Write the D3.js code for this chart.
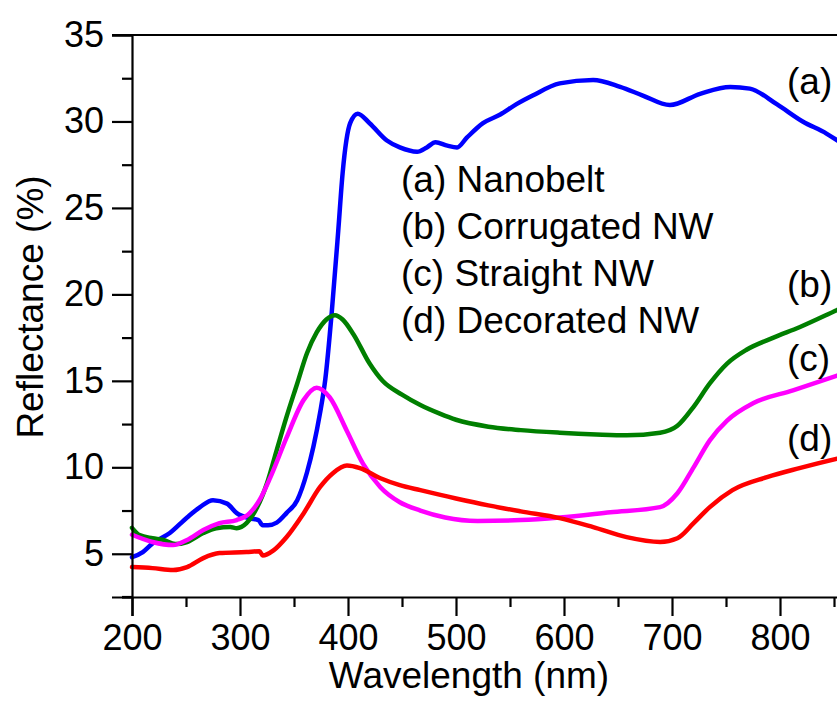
<!DOCTYPE html>
<html>
<head>
<meta charset="utf-8">
<script src="https://cdn.jsdelivr.net/npm/d3@7"></script>
<style>
  html, body { margin: 0; padding: 0; background: #fff; }
  svg { display: block; }
  text { font-family: "Liberation Sans", Arial, sans-serif; fill: #000; }
</style>
</head>
<body>
<svg id="chart" width="837" height="702"></svg>
<script>
// ---- Data ----
const seriesNames = ["(a) Nanobelt", "(b) Corrugated NW", "(c) Straight NW", "(d) Decorated NW"];
const endLabels = ["(a)", "(b)", "(c)", "(d)"];
const seriesColors = ["#0000ff", "#007f00", "#ff00ff", "#ff0000"];

const nanobelt = [
  [200,4.8],[210,5.1],[219,5.6],[235,6.2],[251,7.1],[263,7.7],[275,8.1],[288,7.9],[297,7.35],
  [309,7.05],[317,6.95],[321,6.65],[326,6.65],[334,6.8],[343,7.35],[353,8.1],[362,9.7],[368,11.2],
  [374,13.1],[379,15.1],[385,19.0],[391,23.7],[395,27.0],[402,29.9],[409,30.45],[420,29.9],
  [436,28.9],[448,28.5],[464,28.25],[473,28.5],[481,28.8],[492,28.6],[501,28.5],[510,29.06],
  [525,29.9],[541,30.4],[556,31.0],[571,31.5],[596,32.2],[627,32.4],[652,32.0],[673,31.5],
  [698,30.95],[726,31.6],[754,32.0],[772,31.9],[797,31.0],[821,30.0],[843,29.3],[853,28.9],[860,28.6]
];
const corrugated = [
  [200,6.5],[207,6.08],[219,5.9],[229,5.8],[240,5.56],[251,5.68],[266,6.2],[278,6.48],[291,6.55],
  [297,6.48],[306,6.77],[316,7.7],[325,9.08],[334,11.0],[343,12.9],[353,14.85],[362,16.6],
  [371,17.8],[380,18.55],[388,18.8],[395,18.55],[405,17.7],[420,16.0],[432,15.0],[450,14.2],
  [467,13.6],[485,13.1],[500,12.75],[530,12.35],[560,12.15],[596,12.0],[630,11.9],[658,11.85],
  [689,12.0],[705,12.4],[720,13.5],[735,14.85],[751,16.0],[769,16.8],[794,17.5],[818,18.1],
  [853,19.1],[860,19.3]
];
const straight = [
  [200,6.1],[219,5.68],[238,5.5],[251,5.8],[266,6.37],[281,6.77],[297,6.95],[309,7.35],[318,8.1],
  [328,9.4],[343,11.7],[359,13.9],[371,14.6],[383,14.05],[399,12.1],[414,10.2],[430,8.85],
  [448,7.98],[467,7.5],[490,7.1],[520,6.9],[560,6.95],[596,7.1],[643,7.4],[689,7.7],[705,8.5],
  [720,10.0],[735,11.56],[751,12.7],[775,13.7],[812,14.45],[853,15.3],[860,15.45]
];
const decorated = [
  [200,4.23],[219,4.17],[238,4.06],[251,4.23],[266,4.75],[281,5.04],[306,5.1],[318,5.15],
  [321,4.9],[331,5.2],[343,5.96],[359,7.35],[374,8.85],[386,9.66],[399,10.1],[411,9.95],
  [430,9.37],[448,8.97],[467,8.68],[500,8.2],[530,7.8],[560,7.45],[596,7.06],[627,6.54],
  [658,5.96],[689,5.68],[705,5.9],[720,6.77],[735,7.7],[756,8.68],[788,9.43],[818,9.95],
  [853,10.5],[860,10.6]
];
const seriesData = [nanobelt, corrugated, straight, decorated];

const xMajorTicks = [200, 300, 400, 500, 600, 700, 800];
const xMinorTicks = [250, 350, 450, 550, 650, 750, 850];
const yMajorTicks = [5, 10, 15, 20, 25, 30, 35];
const yMinorTicks = [2.5, 7.5, 12.5, 17.5, 22.5, 27.5, 32.5];

// ---- Layout ----
const svg = d3.select("#chart");
const mLeft = 132, mRight = 888, mTop = 35, mBottom = 597;
const x = d3.scaleLinear().domain([200, 900]).range([mLeft, mRight]);
const y = d3.scaleLinear().domain([2.5, 35]).range([mBottom, mTop]);

// Curves
const line = d3.line().x(d => x(d[0])).y(d => y(d[1])).curve(d3.curveMonotoneX);
seriesData.forEach((s, i) => {
  svg.append("path").datum(s)
    .attr("d", line)
    .attr("fill", "none")
    .attr("stroke", seriesColors[i])
    .attr("stroke-width", 4.5)
    .attr("stroke-linejoin", "round")
    .attr("stroke-linecap", "round");
});

// Axes
const fsTick = 36, fsText = 37;
const xAxis = d3.axisBottom(x).tickValues(xMajorTicks).tickSize(19).tickPadding(8).tickFormat(d3.format("d"));
const gx = svg.append("g").attr("transform", `translate(0,${mBottom})`).call(xAxis);
gx.selectAll("text").attr("font-size", fsTick).attr("font-family", "Liberation Sans, Arial, sans-serif");
const xMinor = d3.axisBottom(x).tickValues(xMinorTicks).tickSize(10).tickFormat("");
const gxm = svg.append("g").attr("transform", `translate(0,${mBottom})`).call(xMinor);
gxm.select(".domain").remove();

const yAxis = d3.axisLeft(y).tickValues(yMajorTicks).tickSize(20).tickPadding(8);
const gy = svg.append("g").attr("transform", `translate(${mLeft},0)`).call(yAxis);
gy.selectAll("text").attr("font-size", fsTick).attr("font-family", "Liberation Sans, Arial, sans-serif");
const yMinor = d3.axisLeft(y).tickValues(yMinorTicks).tickSize(10).tickFormat("");
const gym = svg.append("g").attr("transform", `translate(${mLeft},0)`).call(yMinor);
gym.select(".domain").remove();

svg.selectAll(".domain").attr("stroke", "#000").attr("stroke-width", 2.2);
svg.selectAll(".tick line").attr("stroke", "#000").attr("stroke-width", 2.2);

// top frame line
svg.append("line")
  .attr("x1", x(200) - 20).attr("x2", x(900))
  .attr("y1", y(35)).attr("y2", y(35))
  .attr("stroke", "#000").attr("stroke-width", 2.2);
// extend x-axis to the left (2.5 minor tick meets it)
svg.append("line")
  .attr("x1", x(200) - 10).attr("x2", x(200))
  .attr("y1", mBottom).attr("y2", mBottom)
  .attr("stroke", "#000").attr("stroke-width", 2.2);

// Axis titles
svg.append("text")
  .attr("x", 469).attr("y", 688)
  .attr("text-anchor", "middle")
  .attr("font-size", fsText)
  .text("Wavelength (nm)");
svg.append("text")
  .attr("transform", `translate(43,307) rotate(-90)`)
  .attr("text-anchor", "middle")
  .attr("font-size", fsText)
  .text("Reflectance (%)");

// Legend text
const legendBaselines = [192, 239, 286, 333];
seriesNames.forEach((n, i) => {
  svg.append("text")
    .attr("x", 401).attr("y", legendBaselines[i])
    .attr("font-size", fsText)
    .text(n);
});

// End labels
const endBaselines = [94, 297, 371, 451];
endLabels.forEach((n, i) => {
  svg.append("text")
    .attr("x", 787).attr("y", endBaselines[i])
    .attr("font-size", fsText)
    .text(n);
});
</script>
</body>
</html>
